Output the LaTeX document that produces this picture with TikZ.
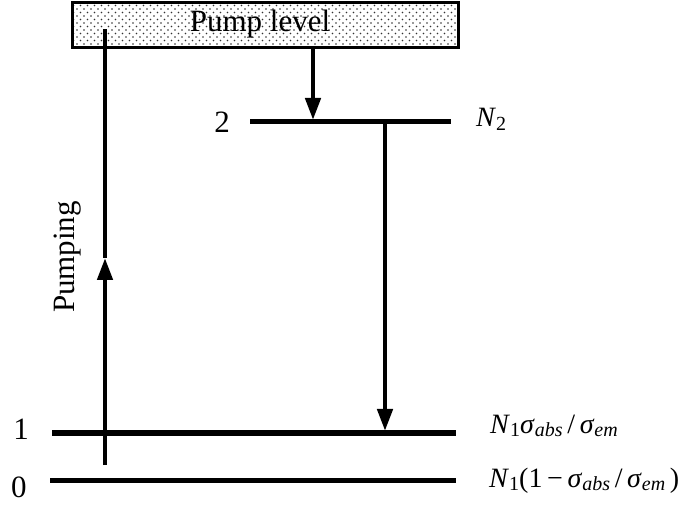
\documentclass[tikz,border=0pt]{standalone}
\usepackage{fontspec}
\setmainfont{Liberation Serif}
\usetikzlibrary{arrows.meta,patterns}
\pgfdeclarepatternformonly{bigdots}{\pgfpoint{-1pt}{-1pt}}{\pgfpoint{8pt}{8pt}}{\pgfpoint{7pt}{7pt}}{%
  \pgfpathcircle{\pgfpoint{0pt}{0pt}}{0.9pt}%
  \pgfpathcircle{\pgfpoint{3.5pt}{3.5pt}}{0.9pt}%
  \pgfusepath{fill}}
\newcommand{\lsub}[1]{\raisebox{-0.3ex}{\fontsize{20}{22}\selectfont #1}}
\begin{document}
\begin{tikzpicture}[x=1pt,y=-1pt,
  level/.style={line width=5pt},
  conn/.style={line width=4.5pt},
  arr/.style={line width=4.5pt,-{Triangle[length=22pt,width=15pt]}},
  txt/.style={font=\fontsize{31}{36}\selectfont,inner sep=0pt},
  mth/.style={font=\fontsize{28}{32}\selectfont,inner sep=0pt,anchor=base west}]
\useasboundingbox (0,0) rectangle (689,513);
% pump level box
\node[draw,line width=3pt,pattern=bigdots,pattern color=black!80,
  minimum width=386pt,minimum height=45pt,anchor=north west,inner sep=0pt]
  (pump) at (70.5,1.5) {};
\node[txt,anchor=base] (pumplbl) at (260,32) {Pump level};
% levels
\coordinate (l2a) at (250,122); \coordinate (l2b) at (451,122);
\coordinate (l1a) at (52,433);  \coordinate (l1b) at (456,433);
\coordinate (l0a) at (50,480);  \coordinate (l0b) at (456,480);
\draw[level] (l2a) -- (l2b);
\draw[level] (l1a) -- (l1b);
\draw[level] (l0a) -- (l0b);
% pumping arrow
\coordinate (pb) at (105,465);
\coordinate (pm) at (105,258);
\coordinate (pt) at (105,29);
\draw[arr] (pb) -- (pm);
\draw[conn] (pm) -- (pt);
\node[txt,rotate=90] (pumping) at (68,257) {Pumping};
% pump level to level 2
\coordinate (d1) at (313,47);
\coordinate (d2) at (313,120);
\draw[arr] (d1) -- (d2);
% emission 2 -> 1
\coordinate (e1) at (385,122);
\coordinate (e2) at (385,431);
\draw[arr] (e1) -- (e2);
% level labels
\node[txt,anchor=base] (n2) at (222,133) {2};
\node[txt,anchor=base] (n1) at (21,439) {1};
\node[txt,anchor=base] (n0) at (19,497) {0};
\node[mth] (r2) at (476,127) {\textit{N}\lsub{2}};
\node[mth] (r1) at (490,433) {\textit{N}\lsub{1}\textit{σ}\lsub{\textit{abs}}\,/\,\textit{σ}\lsub{\textit{em}}};
\node[mth] (r0) at (489,487) {\textit{N}\lsub{1}(1\,−\,\textit{σ}\lsub{\textit{abs}}\,/\,\textit{σ}\lsub{\textit{em}}\,)};
\end{tikzpicture}
\end{document}
